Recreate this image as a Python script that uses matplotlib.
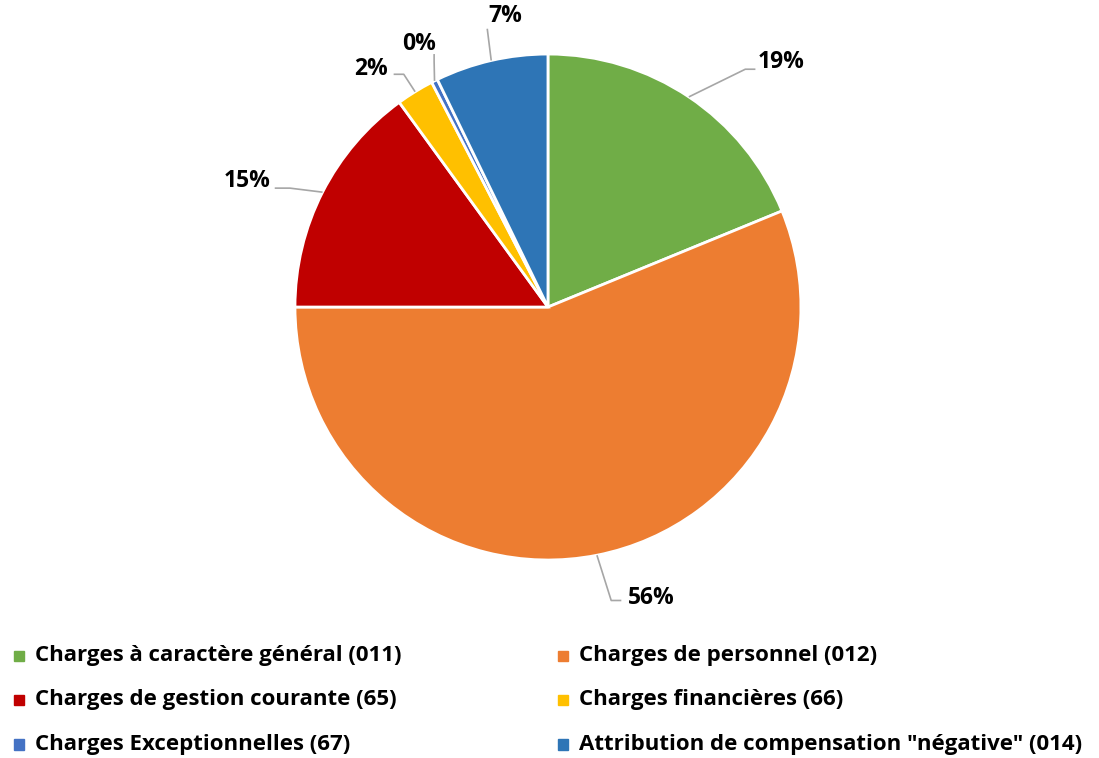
import numpy as np
import matplotlib
matplotlib.use('Agg')
import matplotlib.pyplot as plt
from matplotlib.patches import Rectangle

# Data
categories = [
    'Charges à caractère général (011)',
    'Charges de personnel (012)',
    'Charges de gestion courante (65)',
    'Charges financières (66)',
    'Charges Exceptionnelles (67)',
    'Attribution de compensation "négative" (014)',
]
shares = [18.8, 56.2, 15.0, 2.4, 0.4, 7.2]
pct_labels = ['19%', '56%', '15%', '2%', '0%', '7%']
colors = ['#70AD47', '#ED7D31', '#C00000', '#FFC000', '#4472C4', '#2E75B6']

# label placement (data units, radius = 1): text centre and leader elbow
label_pos = [(0.92, 0.97), (0.41, -1.15), (-1.19, 0.50), (-0.70, 0.94), (-0.51, 1.04), (-0.17, 1.15)]
elbow_pos = [(0.78, 0.94), (0.25, -1.16), (-1.02, 0.47), (-0.57, 0.92), (-0.45, 0.97), (-0.24, 1.10)]
line_end = [(0.82, 0.94), (0.29, -1.16), (-1.08, 0.47), (-0.61, 0.92), (-0.45, 1.00), (-0.24, 1.10)]

plt.rcParams['font.family'] = ['Open Sans', 'DejaVu Sans']
plt.rcParams['font.weight'] = 'bold'

fig = plt.figure(figsize=(10.99, 7.58), dpi=100)
ax = fig.add_axes([0.2684, 0.2612, 0.4604, 0.6675])

wedges, _ = ax.pie(shares, colors=colors, startangle=90, counterclock=False,
                   radius=1, wedgeprops=dict(edgecolor='white', linewidth=2))
ax.set_xlim(-1, 1)
ax.set_ylim(-1, 1)
ax.set_aspect('equal')
ax.axis('off')

# percent labels with leader lines
for w, txt, lp, ep, le in zip(wedges, pct_labels, label_pos, elbow_pos, line_end):
    mid = np.deg2rad((w.theta1 + w.theta2) / 2)
    ax_x, ax_y = np.cos(mid), np.sin(mid)
    ax.plot([ax_x, ep[0], le[0]], [ax_y, ep[1], le[1]], color='#A6A6A6',
            lw=1.2, clip_on=False, solid_capstyle='butt')
    ax.text(lp[0], lp[1], txt, ha='center', va='center', fontsize=16.5,
            fontweight='bold', color='black', clip_on=False)

# legend, drawn row by row in two columns
col_x = [0.020, 0.515]
row_y = [0.135, 0.077, 0.018]
for i, (name, c) in enumerate(zip(categories, colors)):
    x = col_x[i % 2]
    y = row_y[i // 2]
    fig.add_artist(Rectangle((x - 0.0075, y - 0.0068), 0.0095, 0.0135,
                             transform=fig.transFigure, color=c))
    fig.text(x + 0.012, y, name, ha='left', va='center', fontsize=16,
             fontweight='bold', color='black')

fig.savefig('out.png', dpi=100)
